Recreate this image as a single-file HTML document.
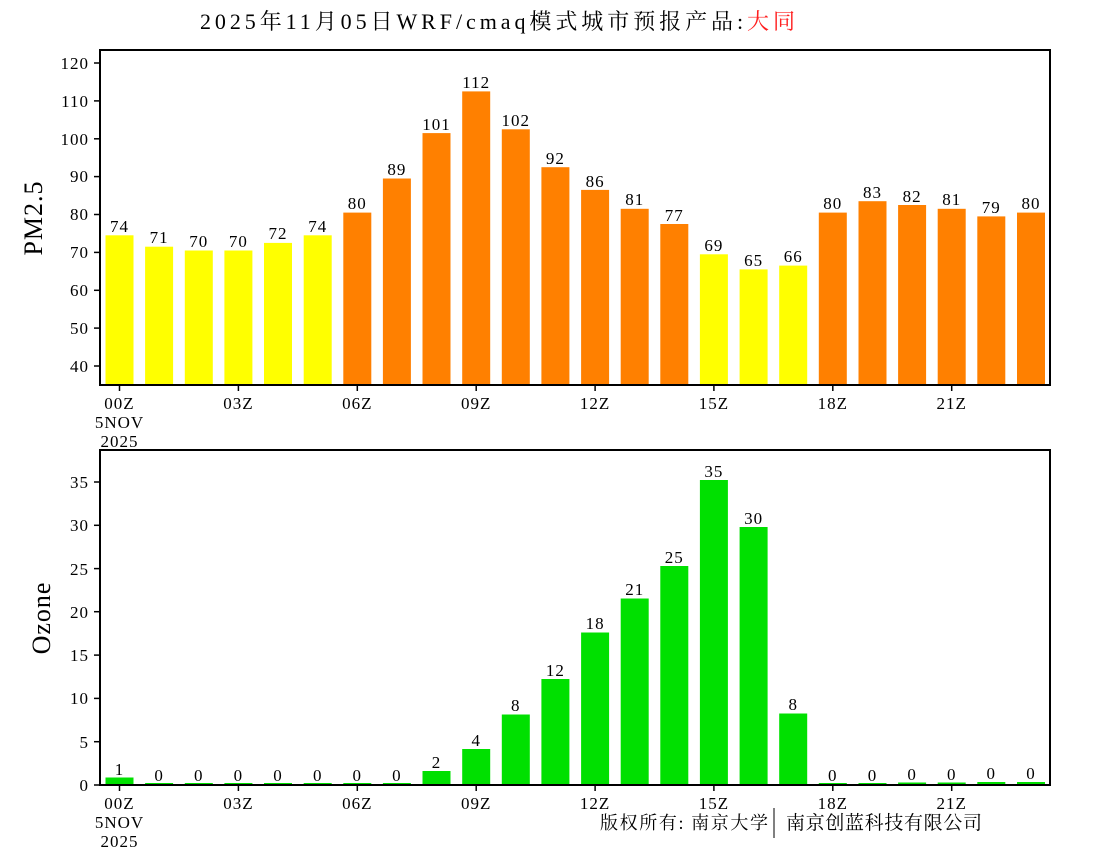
<!DOCTYPE html>
<html><head><meta charset="utf-8"><style>
body{margin:0;background:#fff}
svg{display:block}
text{font-family:"Liberation Serif","Noto Serif CJK SC","Noto Sans CJK SC",serif;fill:#000}
.t{font-size:17px;text-anchor:middle;letter-spacing:1px}
.y{font-size:17px;text-anchor:end;letter-spacing:1px}
.v{font-size:17px;text-anchor:middle;letter-spacing:1px}
</style></head><body>
<svg width="1100" height="850" viewBox="0 0 1100 850" xmlns="http://www.w3.org/2000/svg">
<text x="200" y="29" style="font-size:22px" textLength="595" lengthAdjust="spacing">2025年11月05日WRF/cmaq模式城市预报产品:<tspan style="fill:#ff2020">大同</tspan></text>

<g>
<rect x="105.5" y="235.3" width="28" height="149.7" fill="#ffff00"/>
<rect x="145.1" y="246.7" width="28" height="138.3" fill="#ffff00"/>
<rect x="184.8" y="250.5" width="28" height="134.5" fill="#ffff00"/>
<rect x="224.4" y="250.5" width="28" height="134.5" fill="#ffff00"/>
<rect x="264.0" y="242.9" width="28" height="142.1" fill="#ffff00"/>
<rect x="303.7" y="235.3" width="28" height="149.7" fill="#ffff00"/>
<rect x="343.3" y="212.6" width="28" height="172.4" fill="#ff8000"/>
<rect x="382.9" y="178.5" width="28" height="206.5" fill="#ff8000"/>
<rect x="422.5" y="133.1" width="28" height="251.9" fill="#ff8000"/>
<rect x="462.2" y="91.4" width="28" height="293.6" fill="#ff8000"/>
<rect x="501.8" y="129.3" width="28" height="255.7" fill="#ff8000"/>
<rect x="541.4" y="167.2" width="28" height="217.8" fill="#ff8000"/>
<rect x="581.1" y="189.9" width="28" height="195.1" fill="#ff8000"/>
<rect x="620.7" y="208.8" width="28" height="176.2" fill="#ff8000"/>
<rect x="660.3" y="224.0" width="28" height="161.0" fill="#ff8000"/>
<rect x="699.9" y="254.3" width="28" height="130.7" fill="#ffff00"/>
<rect x="739.6" y="269.4" width="28" height="115.6" fill="#ffff00"/>
<rect x="779.2" y="265.6" width="28" height="119.4" fill="#ffff00"/>
<rect x="818.8" y="212.6" width="28" height="172.4" fill="#ff8000"/>
<rect x="858.5" y="201.2" width="28" height="183.8" fill="#ff8000"/>
<rect x="898.1" y="205.0" width="28" height="180.0" fill="#ff8000"/>
<rect x="937.7" y="208.8" width="28" height="176.2" fill="#ff8000"/>
<rect x="977.3" y="216.4" width="28" height="168.6" fill="#ff8000"/>
<rect x="1017.0" y="212.6" width="28" height="172.4" fill="#ff8000"/>
</g>
<g>
<text class="v" x="119.5" y="232">74</text>
<text class="v" x="159.1" y="243">71</text>
<text class="v" x="198.8" y="247">70</text>
<text class="v" x="238.4" y="247">70</text>
<text class="v" x="278.0" y="239">72</text>
<text class="v" x="317.7" y="232">74</text>
<text class="v" x="357.3" y="209">80</text>
<text class="v" x="396.9" y="175">89</text>
<text class="v" x="436.5" y="130">101</text>
<text class="v" x="476.2" y="88">112</text>
<text class="v" x="515.8" y="126">102</text>
<text class="v" x="555.4" y="164">92</text>
<text class="v" x="595.1" y="187">86</text>
<text class="v" x="634.7" y="205">81</text>
<text class="v" x="674.3" y="221">77</text>
<text class="v" x="713.9" y="251">69</text>
<text class="v" x="753.6" y="266">65</text>
<text class="v" x="793.2" y="262">66</text>
<text class="v" x="832.8" y="209">80</text>
<text class="v" x="872.5" y="198">83</text>
<text class="v" x="912.1" y="202">82</text>
<text class="v" x="951.7" y="205">81</text>
<text class="v" x="991.3" y="213">79</text>
<text class="v" x="1031.0" y="209">80</text>
</g>
<rect x="100" y="50" width="950" height="335" fill="none" stroke="#000" stroke-width="2"/>
<g stroke="#000" stroke-width="1.5">
<line x1="94" y1="366" x2="100" y2="366"/><line x1="94" y1="328.1" x2="100" y2="328.1"/><line x1="94" y1="290.3" x2="100" y2="290.3"/><line x1="94" y1="252.4" x2="100" y2="252.4"/><line x1="94" y1="214.5" x2="100" y2="214.5"/><line x1="94" y1="176.6" x2="100" y2="176.6"/><line x1="94" y1="138.8" x2="100" y2="138.8"/><line x1="94" y1="100.9" x2="100" y2="100.9"/><line x1="94" y1="63" x2="100" y2="63"/>
<line x1="119.5" y1="385" x2="119.5" y2="391"/><line x1="238.4" y1="385" x2="238.4" y2="391"/><line x1="357.3" y1="385" x2="357.3" y2="391"/><line x1="476.2" y1="385" x2="476.2" y2="391"/><line x1="595.1" y1="385" x2="595.1" y2="391"/><line x1="713.9" y1="385" x2="713.9" y2="391"/><line x1="832.8" y1="385" x2="832.8" y2="391"/><line x1="951.7" y1="385" x2="951.7" y2="391"/>
</g>
<text class="y" x="89" y="372">40</text><text class="y" x="89" y="334">50</text><text class="y" x="89" y="296">60</text><text class="y" x="89" y="258">70</text><text class="y" x="89" y="220">80</text><text class="y" x="89" y="182">90</text><text class="y" x="89" y="145">100</text><text class="y" x="89" y="107">110</text><text class="y" x="89" y="69">120</text>
<text class="t" x="119.5" y="409">00Z</text><text class="t" x="119.5" y="428">5NOV</text><text class="t" x="119.5" y="447">2025</text>
<text class="t" x="238.4" y="409">03Z</text><text class="t" x="357.3" y="409">06Z</text><text class="t" x="476.2" y="409">09Z</text><text class="t" x="595.1" y="409">12Z</text><text class="t" x="713.9" y="409">15Z</text><text class="t" x="832.8" y="409">18Z</text><text class="t" x="951.7" y="409">21Z</text>
<text x="0" y="0" transform="translate(42,218) rotate(-90)" style="font-size:26px;text-anchor:middle;letter-spacing:1px">PM2.5</text>

<g fill="#00e000">
<rect x="105.5" y="777.5" width="28" height="7.5"/>
<rect x="145.1" y="783" width="28" height="2"/>
<rect x="184.8" y="783" width="28" height="2"/>
<rect x="224.4" y="783" width="28" height="2"/>
<rect x="264.0" y="783" width="28" height="2"/>
<rect x="303.7" y="783" width="28" height="2"/>
<rect x="343.3" y="783" width="28" height="2"/>
<rect x="382.9" y="783" width="28" height="2"/>
<rect x="422.5" y="771" width="28" height="14"/>
<rect x="462.2" y="749" width="28" height="36"/>
<rect x="501.8" y="714.5" width="28" height="70.5"/>
<rect x="541.4" y="679" width="28" height="106"/>
<rect x="581.1" y="632.5" width="28" height="152.5"/>
<rect x="620.7" y="598.5" width="28" height="186.5"/>
<rect x="660.3" y="566" width="28" height="219"/>
<rect x="699.9" y="480" width="28" height="305"/>
<rect x="739.6" y="527" width="28" height="258"/>
<rect x="779.2" y="713.5" width="28" height="71.5"/>
<rect x="818.8" y="783" width="28" height="2"/>
<rect x="858.5" y="783" width="28" height="2"/>
<rect x="898.1" y="782.5" width="28" height="2.5"/>
<rect x="937.7" y="782.5" width="28" height="2.5"/>
<rect x="977.3" y="782" width="28" height="3"/>
<rect x="1017.0" y="782" width="28" height="3"/>
</g>
<text class="v" x="119.5" y="775">1</text>
<text class="v" x="159.1" y="781">0</text><text class="v" x="198.8" y="781">0</text><text class="v" x="238.4" y="781">0</text><text class="v" x="278.0" y="781">0</text><text class="v" x="317.7" y="781">0</text><text class="v" x="357.3" y="781">0</text><text class="v" x="396.9" y="781">0</text>
<text class="v" x="436.5" y="768">2</text>
<text class="v" x="476.2" y="746">4</text>
<text class="v" x="515.8" y="711">8</text>
<text class="v" x="555.4" y="676">12</text>
<text class="v" x="595.1" y="629">18</text>
<text class="v" x="634.7" y="595">21</text>
<text class="v" x="674.3" y="563">25</text>
<text class="v" x="713.9" y="477">35</text>
<text class="v" x="753.6" y="524">30</text>
<text class="v" x="793.2" y="710">8</text>
<text class="v" x="832.8" y="781">0</text><text class="v" x="872.5" y="781">0</text><text class="v" x="912.1" y="780">0</text><text class="v" x="951.7" y="780">0</text><text class="v" x="991.3" y="779">0</text><text class="v" x="1031.0" y="779">0</text>
<rect x="100" y="450" width="950" height="335" fill="none" stroke="#000" stroke-width="2"/>
<g stroke="#000" stroke-width="1.5">
<line x1="94" y1="785" x2="100" y2="785"/><line x1="94" y1="741.7" x2="100" y2="741.7"/><line x1="94" y1="698.4" x2="100" y2="698.4"/><line x1="94" y1="655.1" x2="100" y2="655.1"/><line x1="94" y1="611.7" x2="100" y2="611.7"/><line x1="94" y1="568.6" x2="100" y2="568.6"/><line x1="94" y1="525.3" x2="100" y2="525.3"/><line x1="94" y1="482" x2="100" y2="482"/>
<line x1="119.5" y1="785" x2="119.5" y2="791"/><line x1="238.4" y1="785" x2="238.4" y2="791"/><line x1="357.3" y1="785" x2="357.3" y2="791"/><line x1="476.2" y1="785" x2="476.2" y2="791"/><line x1="595.1" y1="785" x2="595.1" y2="791"/><line x1="713.9" y1="785" x2="713.9" y2="791"/><line x1="832.8" y1="785" x2="832.8" y2="791"/><line x1="951.7" y1="785" x2="951.7" y2="791"/>
</g>
<text class="y" x="89" y="791">0</text><text class="y" x="89" y="748">5</text><text class="y" x="89" y="704">10</text><text class="y" x="89" y="661">15</text><text class="y" x="89" y="618">20</text><text class="y" x="89" y="575">25</text><text class="y" x="89" y="531">30</text><text class="y" x="89" y="488">35</text>
<text class="t" x="119.5" y="809">00Z</text><text class="t" x="119.5" y="828">5NOV</text><text class="t" x="119.5" y="847">2025</text>
<text class="t" x="238.4" y="809">03Z</text><text class="t" x="357.3" y="809">06Z</text><text class="t" x="476.2" y="809">09Z</text><text class="t" x="595.1" y="809">12Z</text><text class="t" x="713.9" y="809">15Z</text><text class="t" x="832.8" y="809">18Z</text><text class="t" x="951.7" y="809">21Z</text>
<text x="0" y="0" transform="translate(50,618) rotate(-90)" style="font-size:26px;text-anchor:middle;letter-spacing:1px">Ozone</text>
<text x="600" y="829" style="font-size:18px" textLength="168" lengthAdjust="spacing">版权所有: 南京大学</text>
<line x1="774" y1="808" x2="774" y2="838" stroke="#000" stroke-width="1"/>
<text x="786" y="829" style="font-size:19px" textLength="196" lengthAdjust="spacing">南京创蓝科技有限公司</text>
</svg>
</body></html>
